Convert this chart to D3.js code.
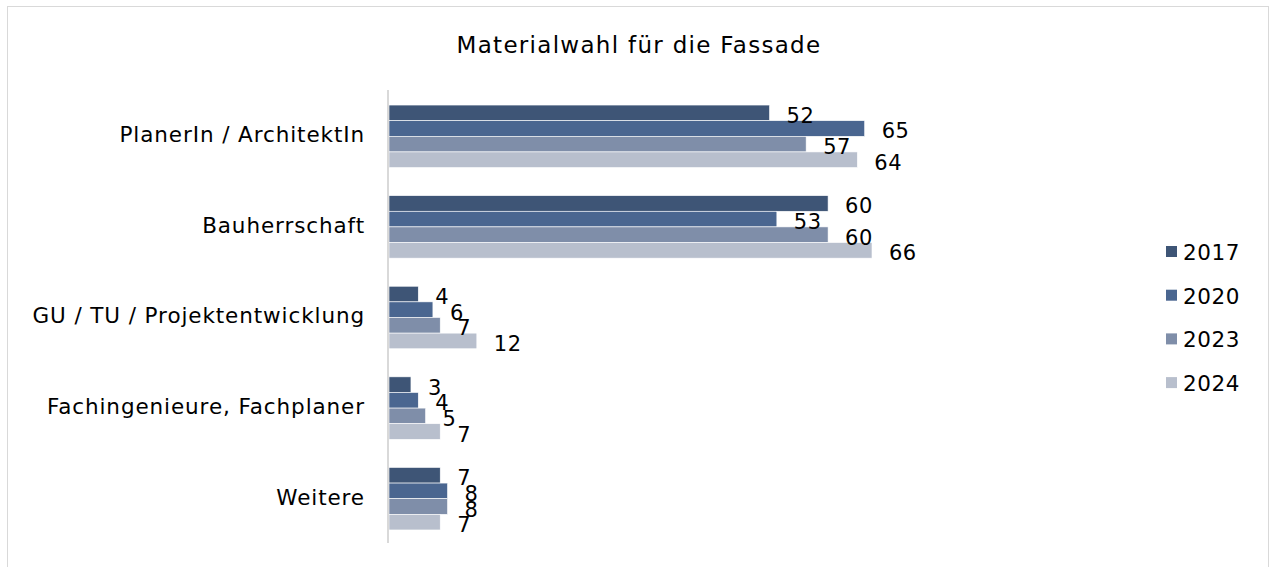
<!DOCTYPE html>
<html>
<head>
<meta charset="utf-8">
<script src="https://cdn.jsdelivr.net/npm/d3@7"></script>
<style>
  body { margin: 0; background: #fff; }
  text { font-family: "DejaVu Sans", sans-serif; fill: #000; }
</style>
</head>
<body>
<svg id="chart" width="1270" height="567"></svg>
<script>
// DATA
const categories = ["PlanerIn / ArchitektIn", "Bauherrschaft", "GU / TU / Projektentwicklung", "Fachingenieure, Fachplaner", "Weitere"];
const years = ["2017", "2020", "2023", "2024"];
const values2017 = [52, 60, 4, 3, 7];
const values2020 = [65, 53, 6, 4, 8];
const values2023 = [57, 60, 7, 5, 8];
const values2024 = [64, 66, 12, 7, 7];
const seriesValues = [values2017, values2020, values2023, values2024];
const colors = ["#3e5576", "#4a6690", "#7f8ea9", "#b8bfcd"];

// LAYOUT
const svg = d3.select("#chart");
const plot = {left: 389, right: 872, top: 90, bottom: 543};

// frame
svg.append("rect")
    .attr("x", 7.5).attr("y", 6.5)
    .attr("width", 1261).attr("height", 580)
    .attr("fill", "none")
    .attr("stroke", "#d9d9d9");

// title
svg.append("text")
    .attr("x", 639).attr("y", 53)
    .attr("text-anchor", "middle")
    .style("font-size", "23px")
    .style("letter-spacing", "1.3px")
    .text("Materialwahl für die Fassade");

// scales
const x = d3.scaleLinear().domain([0, 66]).range([plot.left, plot.right]);
const y0 = d3.scaleBand().domain(categories).range([plot.top, plot.bottom]).paddingInner(0.31).paddingOuter(0.155);
const y1 = d3.scaleBand().domain(years).range([0, y0.bandwidth()]);

// rows of data, one per category
const rows = categories.map((c, i) => ({
    name: c,
    bars: years.map((yr, j) => ({year: yr, value: seriesValues[j][i], color: colors[j]}))
}));

const groups = svg.append("g").selectAll("g")
    .data(rows)
    .join("g")
    .attr("transform", d => `translate(0,${y0(d.name) + 1})`);

groups.selectAll("rect")
    .data(d => d.bars)
    .join("rect")
    .attr("x", x(0))
    .attr("y", d => y1(d.year))
    .attr("width", d => x(d.value) - x(0))
    .attr("height", y1.bandwidth())
    .attr("fill", d => d.color)
    .attr("stroke", "#ffffff")
    .attr("stroke-width", 0.6);

// value labels
groups.selectAll("text")
    .data(d => d.bars)
    .join("text")
    .attr("x", d => x(d.value) + 17)
    .attr("y", d => y1(d.year) + y1.bandwidth() / 2 + 10)
    .style("font-size", "21px")
    .style("letter-spacing", "0.5px")
    .text(d => d.value);

// category axis
const yAxis = svg.append("g")
    .attr("transform", `translate(${plot.left - 1},0)`)
    .call(d3.axisLeft(y0).tickSize(0).tickPadding(23));
yAxis.select(".domain")
    .attr("stroke", "#d9d9d9")
    .attr("stroke-width", 2)
    .attr("d", `M0,${plot.top}V${plot.bottom}`);
yAxis.selectAll("text")
    .style("font-size", "21.5px")
    .style("letter-spacing", "0.9px")
    .style("font-family", "DejaVu Sans, sans-serif")
    .attr("fill", "#000");

// legend
const legend = svg.append("g").selectAll("g")
    .data(years)
    .join("g")
    .attr("transform", (d, i) => `translate(1166,${252 + i * 43.7})`);
legend.append("rect")
    .attr("x", 0).attr("y", -6)
    .attr("width", 11).attr("height", 11)
    .attr("fill", (d, i) => colors[i]);
legend.append("text")
    .attr("x", 17).attr("y", 8)
    .style("font-size", "21.5px")
    .style("letter-spacing", "0.6px")
    .text(d => d);
</script>
</body>
</html>
